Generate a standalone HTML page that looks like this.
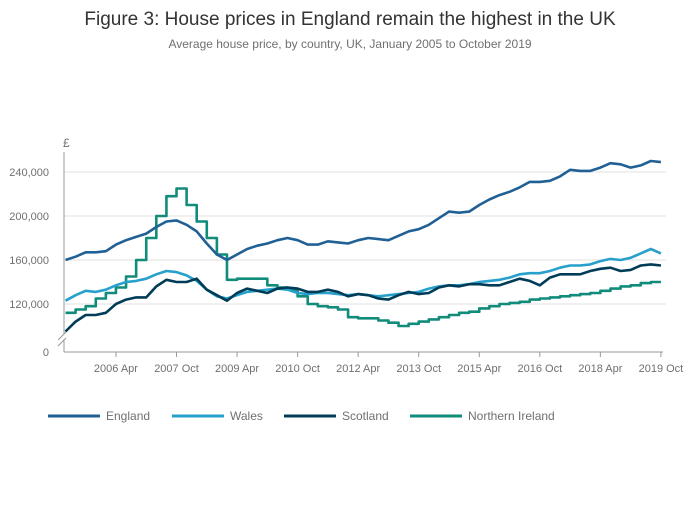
<!DOCTYPE html>
<html><head><meta charset="utf-8"><style>
body{margin:0;background:#fff;font-family:"Liberation Sans",sans-serif;}
svg text{font-family:"Liberation Sans",sans-serif;}
</style></head><body>
<svg id="c" width="700" height="502" viewBox="0 0 700 502">
<text x="350" y="25" text-anchor="middle" font-size="19" fill="#333">Figure 3: House prices in England remain the highest in the UK</text>
<text x="350" y="48" text-anchor="middle" font-size="12" fill="#707070">Average house price, by country, UK, January 2005 to October 2019</text>
<g id="grid"></g><g id="axes"></g><g id="series"></g><g id="legend"></g>
</svg>
<script>
const xTickLabels=["2006 Apr","2007 Oct","2009 Apr","2010 Oct","2012 Apr","2013 Oct","2015 Apr","2016 Oct","2018 Apr","2019 Oct"];
const xTickMonths=[15,33,51,69,87,105,123,141,159,177];
const yTicks=[120000,160000,200000,240000];
const yTickLabels=["120,000","160,000","200,000","240,000"];
const seriesNames=["England","Wales","Scotland","Northern Ireland"];
const england=[160,163,167,167,168,174,178,181,184,190,195,196,192,186,175,165,160,165,170,173,175,178,180,178,174,174,177,176,175,178,180,179,178,182,186,188,192,198,204,203,204,210,215,219,222,226,231,231,232,236,242,241,241,244,248,247,244,246,250,249];
const wales=[123,128,132,131,133,137,140,141,143,147,150,149,146,141,133,127,125,128,131,132,133,134,133,130,129,130,130,129,128,129,128,127,128,129,130,131,134,136,137,137,138,140,141,142,144,147,148,148,150,153,155,155,156,159,161,160,162,166,170,166];
const scotland=[95,104,110,110,112,120,124,126,126,136,142,140,140,143,133,128,123,130,134,132,130,134,135,134,131,131,133,131,127,129,128,125,124,128,131,129,130,135,137,136,138,138,137,137,140,143,141,137,144,147,147,147,150,152,153,150,151,155,156,155];
const nIreland=[112,115,118,125,130,135,145,160,180,200,218,225,210,195,180,165,142,143,143,143,137,135,133,127,120,118,117,115,108,107,107,105,103,100,102,104,106,108,110,112,113,116,118,120,121,122,124,125,126,127,128,129,130,132,134,136,137,139,140,140];
const colors=["#206095","#27a0cc","#003c57","#118c7b"];
const X=m=>65.5+m*3.364;
const Y=v=>304-(v-120000)*0.0011;
const NS="http://www.w3.org/2000/svg";
function mk(t,a,p){const e=document.createElementNS(NS,t);for(const k in a)e.setAttribute(k,a[k]);p.appendChild(e);return e;}
const grid=document.getElementById('grid'),axes=document.getElementById('axes'),ser=document.getElementById('series'),leg=document.getElementById('legend');
yTicks.forEach((v,i)=>{
 const l=mk('line',{x1:64,x2:666,y1:Y(v),y2:Y(v),stroke:'#e2e2e2','stroke-width':1},grid);
 
 
 const t=mk('text',{x:49,y:Y(v)+4,'text-anchor':'end','font-size':11,fill:'#707070'},axes);t.textContent=yTickLabels[i];
 
 
});
let t0=mk('text',{x:49,y:356,'text-anchor':'end','font-size':11,fill:'#707070'},axes);t0.textContent="0";


let cur=mk('text',{x:63,y:147,'font-size':12,fill:'#707070'},axes);cur.textContent="£";


let ya=mk('path',{d:'M64,152V334M64,340V352',stroke:'#999',fill:'none'},axes);


let br=mk('path',{d:'M58,340L66,332M58,346L66,338',stroke:'#999',fill:'none'},axes);


let xa=mk('line',{x1:64,x2:663,y1:352,y2:352,stroke:'#999'},axes);


xTickMonths.forEach((m,i)=>{
 const tk=mk('line',{x1:X(m),x2:X(m),y1:352,y2:357,stroke:'#999'},axes);
 
 
 const t=mk('text',{x:X(m),y:372,'text-anchor':'middle','font-size':11,fill:'#707070'},axes);t.textContent=xTickLabels[i];
 
 
});
const data=[england,wales,scotland,nIreland];
[3,1,2,0].forEach(s=>{
 const arr=data[s];let d='';
 arr.forEach((v,i)=>{const x=X(i*3),y=Y(v*1000);
  if(i===0)d+='M'+x+','+y;
  else if(s===3)d+='H'+x+'V'+y;
  else d+='L'+x+','+y;});
 if(s===3)d+='H'+X(177);
 const p=mk('path',{d:d,stroke:colors[s],'stroke-width':2.6,fill:'none','stroke-linejoin':'round'},ser);
 
 
});
const lx=[48,172,284,410];
seriesNames.forEach((n,i)=>{
 const g=mk('g',{},leg);
 
 
 mk('line',{x1:lx[i],x2:lx[i]+52,y1:416,y2:416,stroke:colors[i],'stroke-width':3},g);
 const t=mk('text',{x:lx[i]+58,y:420,'font-size':12,fill:'#707070'},g);t.textContent=n;
});
</script>
</body></html>
